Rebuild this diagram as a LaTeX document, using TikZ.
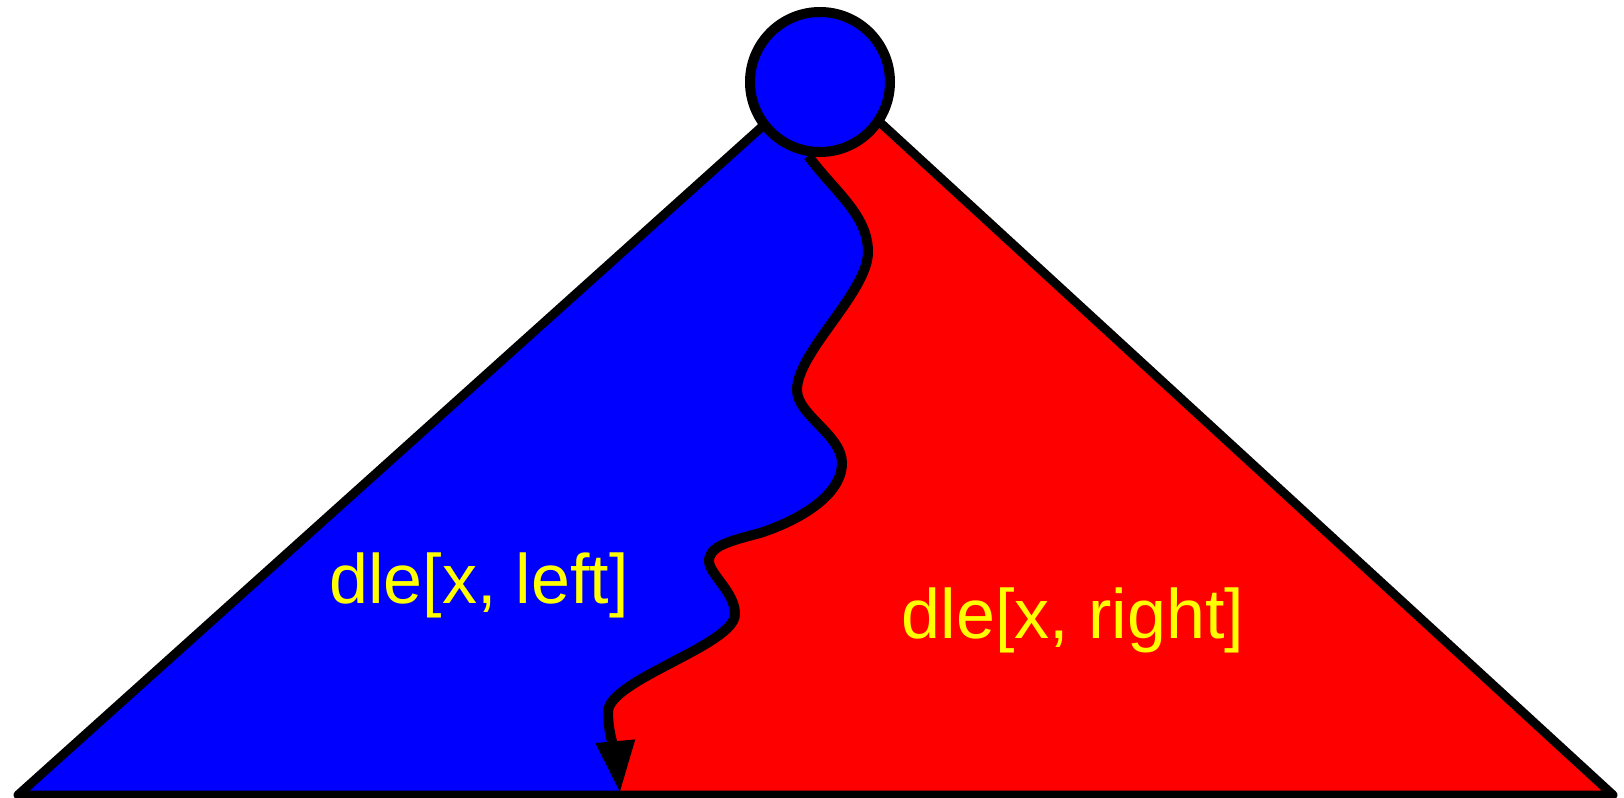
\documentclass[tikz,border=0pt]{standalone}
\usepackage{fontspec}
\setmainfont{Liberation Sans}
\usepackage{xcolor}
\definecolor{leftblue}{RGB}{0,0,255}
\definecolor{rightred}{RGB}{255,0,0}
\definecolor{tagyellow}{RGB}{255,255,0}
\usepackage{tikz}
\usetikzlibrary{arrows.meta,backgrounds}

\begin{document}
\begin{tikzpicture}[x=0.5pt, y=-0.5pt,
    font=\fontsize{35pt}{42pt}\selectfont,
    root/.style={circle, draw, fill=leftblue, line width=5pt,
      minimum size=70pt, inner sep=0pt},
    rim/.style={line width=4.5pt, line join=round},
    wiggleline/.style={line width=5pt, -{Triangle[length=26pt, width=18.5pt]}},
    sidetext/.style={text=tagyellow, anchor=base, inner sep=0pt}]
  \useasboundingbox (0,0) rectangle (1624,798);

  \node[root] (root) at (820,82) {};
  \coordinate (apex) at (824,71);
  \coordinate (bl) at (18,795);
  \coordinate (br) at (1613,795);
  \coordinate (tip) at (620,793);

  % the split line between the two halves
  \tikzset{wiggle/.style={insert path={
    .. controls (835,192) and (868,215) .. (868,252)
    .. controls (868,292) and (797,352) .. (797,390)
    .. controls (797,415) and (842,435) .. (842,463)
    .. controls (842,495) and (800,520) .. (760,533)
    .. controls (730,541) and (709,546) .. (709,561)
    .. controls (709,574) and (735,592) .. (735,614)
    .. controls (735,645) and (608,680) .. (608,712)
    .. controls (608,735) and (617,760) .. (tip)}}}

  \begin{scope}[on background layer]
    \fill[rightred] (bl) -- (apex) -- (br) -- cycle;
    \fill[leftblue] (bl) -- (apex) -- (root.center) -- (808,155) [wiggle]
      -- (tip |- bl) -- cycle;
    \draw[rim] (bl) -- (apex) -- (br) -- cycle;
  \end{scope}

  \draw[wiggleline] (root.-99) [wiggle];

  \node[sidetext] (lefttag) at (479,603) {dle[x, left]};
  \node[sidetext] (righttag) at (1073,638) {dle[x, right]};
\end{tikzpicture}
\end{document}
